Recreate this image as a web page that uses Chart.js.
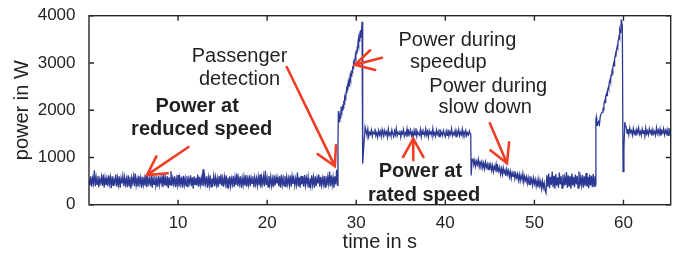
<!DOCTYPE html>
<html><head><meta charset="utf-8">
<script src="https://cdn.jsdelivr.net/npm/chart.js@4.4.1/dist/chart.umd.min.js"></script>
<style>html,body{margin:0;padding:0;background:#fff;}canvas{display:block;}</style>
</head><body>
<canvas id="c" width="680" height="257"></canvas>
<script>
// ---- tick labels ----
const xTicks = [10, 20, 30, 40, 50, 60];
const yTicks = [0, 1000, 2000, 3000, 4000];

// ---- measured power trace (W); steady phases sampled every 0.1 s ----
const sampleStep = 0.1;

const reducedStart = 0.0;
const reducedSpeed = [
  520,410,600,380,560,450,730,390,580,430,
  610,370,540,460,590,400,640,360,570,420,
  550,390,620,440,580,350,600,410,530,470,
  640,380,570,420,600,360,560,450,610,390,
  580,430,550,370,620,400,590,340,570,460,
  600,390,660,410,540,380,610,440,570,360,
  590,420,560,400,630,370,580,450,550,390,
  620,360,570,430,600,400,540,380,610,420,
  560,450,590,370,640,410,570,390,600,350,
  580,420,710,400,560,440,600,370,550,410,
  630,380,570,430,590,360,610,420,560,400,
  600,370,550,450,620,390,580,340,600,430,
  570,410,640,380,590,420,560,400,750,390,
  580,440,600,360,570,410,620,380,550,450,
  610,390,580,420,560,370,600,430,640,400,
  560,380,590,440,620,360,570,410,600,390,
  550,430,610,370,580,420,660,390,570,440,
  600,360,560,410,590,400,630,380,550,420,
  620,390,570,450,600,370,580,430,560,400,
  590,410,640,360,570,440,600,390,720,420,
  560,380,610,430,590,400,550,370,620,410,
  580,450,570,390,600,360,640,420,560,400,
  610,370,590,430,560,410,620,380,600,440,
  570,400,550,420,680,390,580,360,610,430,
  600,380,630,410,570,440,590,370,560,400,
  620,420,580,360,600,390,570,450,640,380,
  590,410,560,430,610,370,600,400,580,440,
  700,390,620,420,580,360,600,430,740,410
];

const speedup1Time  = [27.95,28.0,28.05,28.1,28.15,28.2,28.25,28.3,28.35,28.4,28.45,28.5,28.55,28.6,28.65,28.7,28.75,28.8,28.85,28.9,28.95,29.0,29.05,29.1,29.15,29.2,29.25,29.3,29.35,29.4,29.45,29.5,29.55,29.6,29.65,29.7,29.75,29.8,29.85,29.9,29.95,30.0,30.05,30.1,30.15,30.2,30.25,30.3,30.35,30.4,30.45,30.5,30.55,30.6,30.65,30.7,30.75,30.85,30.95,31.0];
const speedup1Power = [1300,1980,1850,1760,1870,1900,1820,2010,1960,2080,2000,2120,2050,2200,2130,2260,2220,2330,2280,2420,2360,2480,2430,2560,2500,2620,2580,2700,2640,2760,2720,2850,2790,2930,2880,2990,2950,3080,3020,3150,3110,3260,3190,3300,3280,3430,3370,3520,3460,3580,3540,3700,3620,3650,3870,3800,870,1250,1500,1640];

const rated1Start = 31.1;
const ratedSpeed1 = [
  1560,1470,1600,1440,1530,1490,1580,1450,1540,1500,
  1610,1460,1520,1430,1570,1480,1550,1440,1590,1500,
  1460,1570,1490,1540,1430,1600,1470,1520,1450,1580,
  1500,1440,1560,1480,1610,1460,1530,1490,1570,1430,
  1540,1500,1590,1450,1520,1470,1600,1440,1550,1490,
  1580,1460,1530,1420,1570,1480,1620,1450,1540,1500,
  1470,1590,1440,1560,1490,1530,1460,1600,1480,1550,
  1430,1570,1500,1540,1460,1610,1470,1520,1450,1580,
  1490,1550,1440,1600,1480,1530,1460,1570,1500,1440,
  1560,1470,1590,1450,1540,1490,1610,1460,1520,1480,
  1570,1440,1550,1500,1590,1460,1530,1480,1600,1450,
  1540,1490,1570,1460,1520,1480,1560,1500
];

const slowDropTime  = [42.85, 42.9, 43.0];
const slowDropPower = [1480, 620, 960];

const slowStart = 43.1;
const slowDown = [
  980,840,940,810,920,850,960,800,900,830,
  910,780,880,760,900,790,860,750,890,770,
  850,720,830,700,810,740,860,690,800,710,
  790,650,760,640,780,670,730,610,750,640,
  720,590,700,560,680,600,710,550,660,570,
  650,520,640,500,620,540,660,480,600,510,
  590,450,570,430,600,460,550,410,560,440,
  530,390,510,370,540,400,490,340,500,360,
  460,300,250
];

const idleStart = 51.4;
const idleSpeed = [
  620,380,660,350,590,420,700,370,610,340,
  650,400,580,360,680,430,600,350,640,390,
  570,420,690,360,620,380,600,340,660,410,
  590,370,640,430,610,350,700,390,580,420,
  630,360,600,400,670,380,590,350,640,410,
  610,370,650,390,600
];

const speedup2Time  = [56.85,56.9,56.95,57.0,57.05,57.1,57.2,57.3,57.4,57.5,57.6,57.7,57.75,57.8,57.9,57.95,58.0,58.1,58.15,58.2,58.3,58.35,58.4,58.5,58.55,58.6,58.7,58.75,58.8,58.9,58.95,59.0,59.1,59.15,59.2,59.3,59.35,59.4,59.5,59.55,59.6,59.65,59.7,59.75,59.8,59.87,59.95,60.05,60.15,60.2];
const speedup2Power = [420,1780,1850,1760,1680,1720,1760,1700,1880,1920,1960,2050,2000,2130,2200,2160,2290,2350,2310,2420,2480,2450,2580,2650,2610,2740,2800,2770,2900,2990,2940,3080,3180,3130,3260,3350,3320,3460,3560,3520,3700,3640,3650,3920,3850,3800,700,1200,1750,1680];

const rated2Start = 60.3;
const ratedSpeed2 = [
  1650,1510,1600,1480,1620,1530,1570,1470,1610,1500,
  1560,1460,1590,1520,1630,1490,1550,1470,1600,1510,
  1580,1450,1620,1500,1560,1480,1610,1520,1570,1460,
  1590,1500,1550,1470,1630,1510,1580,1490,1600,1460,
  1560,1520,1610,1480,1570,1500,1590,1470,1620,1510,
  1550
];

// ---- build point table ----
const points = [];
function addSampled(start, vals){ vals.forEach((v,i)=>points.push({x: +(start + i*sampleStep).toFixed(3), y: v})); }
function addPairs(ts, ps){ ts.forEach((t,i)=>points.push({x: t, y: ps[i]})); }
addSampled(reducedStart, reducedSpeed);
addPairs(speedup1Time, speedup1Power);
addSampled(rated1Start, ratedSpeed1);
addPairs(slowDropTime, slowDropPower);
addSampled(slowStart, slowDown);
addSampled(idleStart, idleSpeed);
addPairs(speedup2Time, speedup2Power);
addSampled(rated2Start, ratedSpeed2);

// ---- annotations (data coordinates) ----
const labels = [
  {text:'Passenger',     t:16.9,  p:3011, bold:false},
  {text:'detection',     t:16.9,  p:2541, bold:false},
  {text:'Power during',  t:41.35, p:3362, bold:false},
  {text:'speedup',       t:40.34, p:2899, bold:false},
  {text:'Power during',  t:44.82, p:2379, bold:false},
  {text:'slow down',     t:44.48, p:1931, bold:false},
  {text:'Power at',      t:12.14, p:1952, bold:true},
  {text:'reduced speed', t:12.65, p:1467, bold:true},
  {text:'Power at',      t:37.2,  p:583,  bold:true},
  {text:'rated speed',   t:37.62, p:78,   bold:true}
];
const arrows = [
  {from:[11.17,1221], to:[6.5,625]},
  {from:[22.2,2914],  to:[27.6,815]},
  {from:[32.88,3109], to:[29.85,2962]},
  {from:[36.4,941],   to:[36.4,1398]},
  {from:[45.0,1726],  to:[46.92,878]}
];

const FONT = '"Liberation Sans", Arial, Helvetica, sans-serif';
const TEXT = '#231f20';

const decor = {
  id: 'decor',
  afterDatasetsDraw(chart){
    const {ctx, chartArea:a, scales:{x, y}} = chart;
    ctx.save();
    ctx.strokeStyle = '#262626';
    ctx.lineWidth = 1.4;
    ctx.strokeRect(a.left, a.top, a.right - a.left, a.bottom - a.top);
    ctx.beginPath();
    xTicks.forEach(v => {
      const px = x.getPixelForValue(v);
      ctx.moveTo(px, a.bottom); ctx.lineTo(px, a.bottom - 5);
      ctx.moveTo(px, a.top);    ctx.lineTo(px, a.top + 5);
    });
    yTicks.forEach(v => {
      const py = y.getPixelForValue(v);
      ctx.moveTo(a.left, py);  ctx.lineTo(a.left + 5, py);
      ctx.moveTo(a.right, py); ctx.lineTo(a.right - 5, py);
    });
    ctx.stroke();

    ctx.strokeStyle = '#ef3e25';
    ctx.lineWidth = 2.6;
    ctx.lineCap = 'round';
    arrows.forEach(ar => {
      const x0 = x.getPixelForValue(ar.from[0]), y0 = y.getPixelForValue(ar.from[1]);
      const x1 = x.getPixelForValue(ar.to[0]),   y1 = y.getPixelForValue(ar.to[1]);
      const ang = Math.atan2(y0 - y1, x0 - x1);
      const L = 21, da = 29 * Math.PI / 180;
      ctx.beginPath();
      ctx.moveTo(x0, y0); ctx.lineTo(x1, y1);
      ctx.moveTo(x1 + L*Math.cos(ang + da), y1 + L*Math.sin(ang + da));
      ctx.lineTo(x1, y1);
      ctx.lineTo(x1 + L*Math.cos(ang - da), y1 + L*Math.sin(ang - da));
      ctx.stroke();
    });

    ctx.fillStyle = TEXT;
    ctx.textAlign = 'center';
    ctx.textBaseline = 'alphabetic';
    labels.forEach(l => {
      ctx.font = (l.bold ? 'bold ' : '') + '20px ' + FONT;
      ctx.fillText(l.text, x.getPixelForValue(l.t), y.getPixelForValue(l.p));
    });
    ctx.restore();
  }
};

new Chart(document.getElementById('c'), {
  type: 'line',
  data: { datasets: [{
    data: points,
    borderColor: '#2b3894',
    borderWidth: 1.3,
    pointRadius: 0,
    tension: 0,
    fill: false
  }]},
  options: {
    responsive: false,
    animation: false,
    devicePixelRatio: 1,
    parsing: false,
    layout: { padding: { top: 14.7, right: 9.3, left: 0, bottom: 0 } },
    plugins: { legend: { display: false }, tooltip: { enabled: false } },
    scales: {
      x: {
        type: 'linear', min: 0, max: 65.3,
        afterBuildTicks: s => { s.ticks = xTicks.map(v => ({ value: v })); },
        afterFit: s => { s.height = 52.3; },
        grid: { display: false }, border: { display: false },
        ticks: { font: { size: 17, family: FONT }, color: TEXT, padding: 0, maxRotation: 0, autoSkip: false, callback: v => String(v) },
        title: { display: true, text: 'time in s', font: { size: 20, family: FONT }, color: TEXT, padding: { top: 0, bottom: 3 } }
      },
      y: {
        type: 'linear', min: 0, max: 4000,
        afterBuildTicks: s => { s.ticks = yTicks.map(v => ({ value: v })); },
        afterFit: s => { s.width = 89; },
        grid: { display: false }, border: { display: false },
        ticks: { font: { size: 17, family: FONT }, color: TEXT, padding: 5.5, callback: v => String(v) },
        title: { display: true, text: 'power in W', font: { size: 20, family: FONT }, color: TEXT, padding: { top: 10, bottom: 0 } }
      }
    }
  },
  plugins: [decor]
});
</script>
</body></html>
